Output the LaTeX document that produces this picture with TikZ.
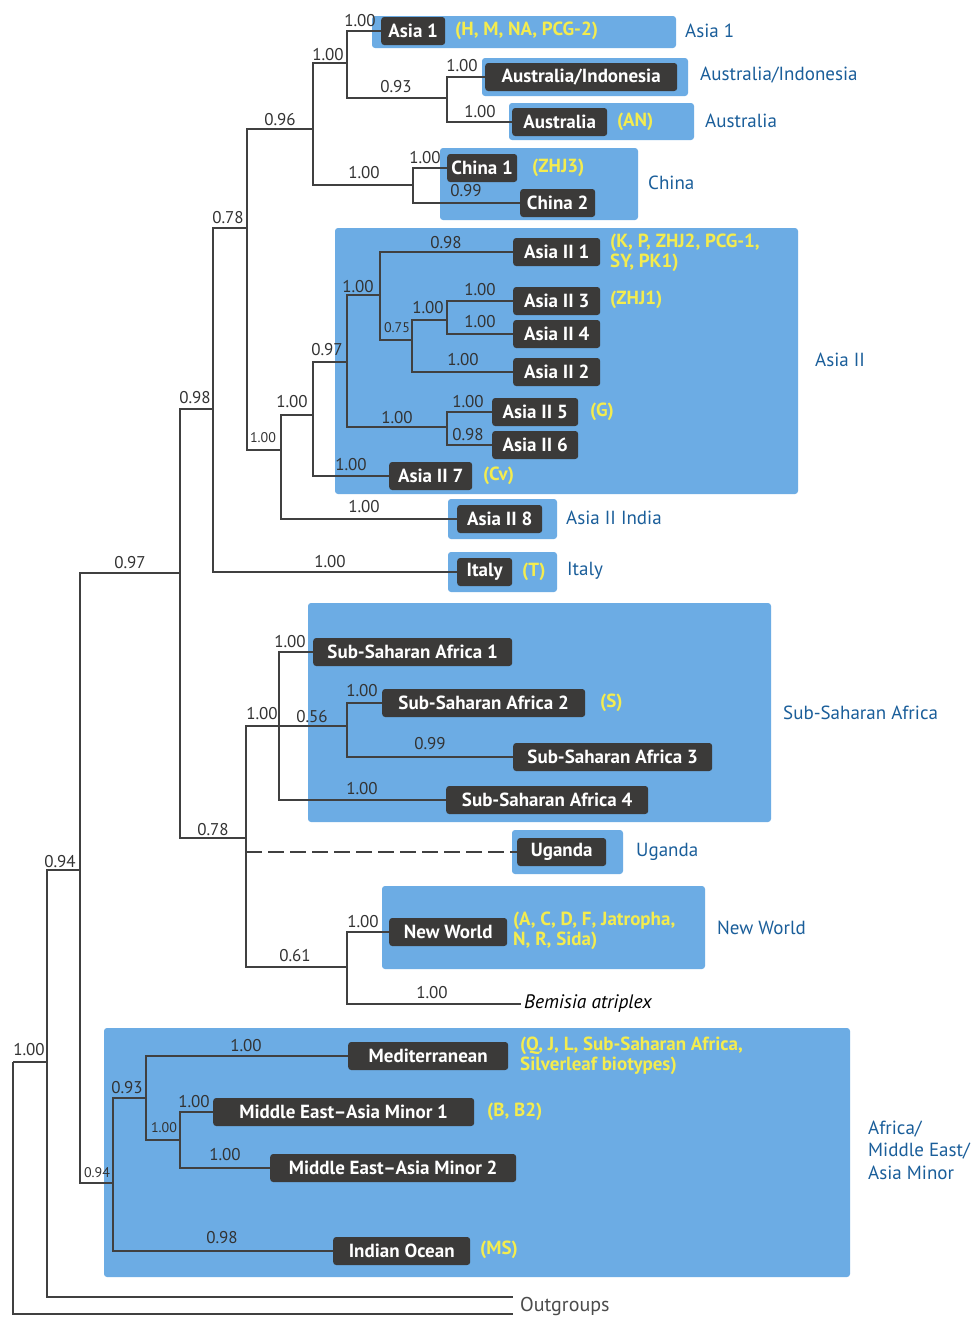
\documentclass[tikz,border=0pt]{standalone}
\usepackage{fontspec}
\setmainfont{PT Sans}
\definecolor{boxblue}{HTML}{6CACE4}
\definecolor{darkbox}{HTML}{3B3A39}
\definecolor{linec}{HTML}{404040}
\definecolor{numc}{HTML}{333333}
\definecolor{yelc}{HTML}{F4EC4E}
\definecolor{grpc}{HTML}{1A5E9A}
\begin{document}
\begin{tikzpicture}[x=1pt,y=-1pt,
  br/.style={line width=1.2pt, draw=linec},
  grp/.style={fill=boxblue, rounded corners=3pt},
  leaf/.style={fill=darkbox, text=white, font=\bfseries\fontsize{19}{20}\selectfont, rounded corners=3pt, minimum height=28pt, inner xsep=3pt, inner ysep=0pt, anchor=west},
  num/.style={text=numc, font=\fontsize{17}{17}\selectfont, inner sep=0pt},
  snum/.style={text=numc, font=\fontsize{14}{14}\selectfont, inner sep=0pt},
  yel/.style={text=yelc, font=\bfseries\fontsize{19}{19.5}\selectfont, anchor=west, inner sep=0pt, align=left},
  glab/.style={text=grpc, font=\fontsize{19}{22.5}\selectfont, anchor=west, inner sep=0pt, align=left}]
\useasboundingbox (0,0) rectangle (974,1317);
\fill[white] (0,0) rectangle (974,1317);

% group boxes
\fill[grp] (372,16) rectangle (676,48);
\fill[grp] (482,58) rectangle (688,96);
\fill[grp] (509,103) rectangle (694,140);
\fill[grp] (440,148) rectangle (638,220);
\fill[grp] (335,228) rectangle (798,494);
\fill[grp] (448,499) rectangle (557,539);
\fill[grp] (448,552) rectangle (557,592);
\fill[grp] (308,603) rectangle (771,822);
\fill[grp] (512,830) rectangle (623,874);
\fill[grp] (382,886) rectangle (705,969);
\fill[grp] (104,1028) rectangle (850,1277);

% leaves
\node[leaf, minimum width=64pt] (asia1) at (381,31) {Asia 1};
\node[leaf, minimum width=192pt] (ausind) at (485,77) {Australia/Indonesia};
\node[leaf, minimum width=95pt] (aus) at (512,122) {Australia};
\node[leaf, minimum width=70pt] (china1) at (447,168) {China 1};
\node[leaf, minimum width=75pt] (china2) at (520,203) {China 2};
\node[leaf, minimum width=87pt] (a21) at (513,252) {Asia II 1};
\node[leaf, minimum width=87pt] (a23) at (513,301) {Asia II 3};
\node[leaf, minimum width=87pt] (a24) at (513,334) {Asia II 4};
\node[leaf, minimum width=87pt] (a22) at (513,372) {Asia II 2};
\node[leaf, minimum width=86pt] (a25) at (492,412) {Asia II 5};
\node[leaf, minimum width=86pt] (a26) at (492,445) {Asia II 6};
\node[leaf, minimum width=83pt] (a27) at (389,476) {Asia II 7};
\node[leaf, minimum width=85pt] (a28) at (457,519) {Asia II 8};
\node[leaf, minimum width=55pt] (italy) at (457,572) {Italy};
\node[leaf, minimum width=199pt] (ssa1) at (313,652) {Sub-Saharan Africa 1};
\node[leaf, minimum width=203pt] (ssa2) at (382,703) {Sub-Saharan Africa 2};
\node[leaf, minimum width=199pt] (ssa3) at (513,757) {Sub-Saharan Africa 3};
\node[leaf, minimum width=202pt] (ssa4) at (446,800) {Sub-Saharan Africa 4};
\node[leaf, minimum width=89pt] (uganda) at (517,852) {Uganda};
\node[leaf, minimum width=118pt] (nw) at (389,932) {New World};
\node[anchor=west, inner sep=0pt, font=\itshape\fontsize{19.5}{20}\selectfont, text=black] (bem) at (524,1004) {Bemisia atriplex};
\node[leaf, minimum width=160pt] (med) at (348,1056) {Mediterranean};
\node[leaf, minimum width=261pt] (meam1) at (213,1112) {Middle East–Asia Minor 1};
\node[leaf, minimum width=246pt] (meam2) at (270,1168) {Middle East–Asia Minor 2};
\node[leaf, minimum width=137pt] (indian) at (333,1251) {Indian Ocean};
\node[anchor=west, inner sep=0pt, font=\fontsize{20}{20}\selectfont, text=black!70] (outg) at (520,1306) {Outgroups};

% internal nodes
\coordinate (r0) at (13,1062);
\coordinate (n47) at (47,1062);
\coordinate (n80) at (80,870);
\coordinate (n180) at (180,573);
\coordinate (n213) at (213,409);
\coordinate (n247) at (247,228);
\coordinate (n313) at (313,129);
\coordinate (n347) at (347,63);
\coordinate (n447) at (447,98);
\coordinate (n413) at (413,185);
\coordinate (n281) at (281,450);
\coordinate (n313b) at (313,415);
\coordinate (n347b) at (347,362);
\coordinate (n380) at (380,295);
\coordinate (n412) at (412,340);
\coordinate (n447b) at (447,320);
\coordinate (n447c) at (447,427);
\coordinate (n246) at (246,838);
\coordinate (n279) at (279,726);
\coordinate (n347c) at (347,726);
\coordinate (n347d) at (347,967);
\coordinate (n113) at (113,1183);
\coordinate (n146) at (146,1098);
\coordinate (n180b) at (180,1140);
\coordinate (og1) at (513,1297);
\coordinate (og2) at (513,1314);

% branches
\draw[br] (r0) |- (n47);
\draw[br] (r0) |- (og2);
\draw[br] (n47) |- (n80);
\draw[br] (n47) |- (og1);
\draw[br] (n80) |- (n180);
\draw[br] (n80) |- (n113);
\draw[br] (n180) |- (n213);
\draw[br] (n180) |- (n246);
\draw[br] (n213) |- (n247);
\draw[br] (n213) |- (italy.west);
\draw[br] (n247) |- (n313);
\draw[br] (n247) |- (n281);
\draw[br] (n313) |- (n347);
\draw[br] (n313) |- (n413);
\draw[br] (n347) |- (asia1.west);
\draw[br] (n347) |- (n447);
\draw[br] (n447) |- (ausind.west);
\draw[br] (n447) |- (aus.west);
\draw[br] (n413) |- (china1.west);
\draw[br] (n413) |- (china2.west);
\draw[br] (n281) |- (n313b);
\draw[br] (n281) |- (a28.west);
\draw[br] (n313b) |- (n347b);
\draw[br] (n313b) |- (a27.west);
\draw[br] (n347b) |- (n380);
\draw[br] (n347b) |- (n447c);
\draw[br] (n380) |- (a21.west);
\draw[br] (n380) |- (n412);
\draw[br] (n412) |- (n447b);
\draw[br] (n412) |- (a22.west);
\draw[br] (n447b) |- (a23.west);
\draw[br] (n447b) |- (a24.west);
\draw[br] (n447c) |- (a25.west);
\draw[br] (n447c) |- (a26.west);
\draw[br] (n246) |- (n279);
\draw[br] (n246) |- (n347d);
\draw[br, dash pattern=on 16pt off 6pt] (n246 |- uganda.west) -- (uganda.west);
\draw[br] (n279) |- (ssa1.west);
\draw[br] (n279) -- (n347c);
\draw[br] (n279) |- (ssa4.west);
\draw[br] (n347c) |- (ssa2.west);
\draw[br] (n347c) |- (ssa3.west);
\draw[br] (n347d) |- (nw.west);
\draw[br] (n347d) |- ([xshift=-3pt]bem.west);
\draw[br] (n113) |- (n146);
\draw[br] (n113) |- (indian.west);
\draw[br] (n146) |- (med.west);
\draw[br] (n146) |- (n180b);
\draw[br] (n180b) |- (meam1.west);
\draw[br] (n180b) |- (meam2.west);

% support values
\node[num] (v1) at (360,21) {1.00};
\node[num] (v2) at (328,55) {1.00};
\node[num] (v3) at (396,87) {0.93};
\node[num] (v4) at (462,66) {1.00};
\node[num] (v5) at (480,112) {1.00};
\node[num] (v6) at (425,158) {1.00};
\node[num] (v7) at (466,191) {0.99};
\node[num] (v8) at (364,173) {1.00};
\node[num] (v9) at (280,120) {0.96};
\node[num] (v10) at (228,218) {0.78};
\node[num] (v11) at (446,243) {0.98};
\node[num] (v12) at (358,287) {1.00};
\node[num] (v13) at (428,308) {1.00};
\node[num] (v14) at (480,290) {1.00};
\node[num] (v15) at (480,322) {1.00};
\node[snum] (v16) at (397,328) {0.75};
\node[num] (v17) at (463,360) {1.00};
\node[num] (v18) at (327,350) {0.97};
\node[num] (v19) at (468,402) {1.00};
\node[num] (v20) at (468,435) {0.98};
\node[num] (v21) at (397,418) {1.00};
\node[num] (v22) at (292,402) {1.00};
\node[snum] (v23) at (263,438) {1.00};
\node[num] (v24) at (351,465) {1.00};
\node[num] (v25) at (364,507) {1.00};
\node[num] (v26) at (195,398) {0.98};
\node[num] (v27) at (330,562) {1.00};
\node[num] (v28) at (130,563) {0.97};
\node[num] (v29) at (290,642) {1.00};
\node[num] (v30) at (262,714) {1.00};
\node[num] (v31) at (312,717) {0.56};
\node[num] (v32) at (362,691) {1.00};
\node[num] (v33) at (430,744) {0.99};
\node[num] (v34) at (362,789) {1.00};
\node[num] (v35) at (213,830) {0.78};
\node[num] (v36) at (363,922) {1.00};
\node[num] (v37) at (295,956) {0.61};
\node[num] (v38) at (432,993) {1.00};
\node[num] (v39) at (60,862) {0.94};
\node[num] (v40) at (29,1050) {1.00};
\node[num] (v41) at (246,1046) {1.00};
\node[num] (v42) at (127,1088) {0.93};
\node[num] (v43) at (194,1102) {1.00};
\node[snum] (v44) at (164,1128) {1.00};
\node[num] (v45) at (225,1155) {1.00};
\node[snum] (v46) at (97,1173) {0.94};
\node[num] (v47) at (222,1238) {0.98};

% biotype annotations
\node[yel] (y1) at (455,31) {(H, M, NA, PCG-2)};
\node[yel] (y2) at (617,122) {(AN)};
\node[yel] (y3) at (532,168) {(ZHJ3)};
\node[yel] (y4) at (610,253) {(K, P, ZHJ2, PCG-1,\\SY, PK1)};
\node[yel] (y5) at (610,300) {(ZHJ1)};
\node[yel] (y6) at (590,412) {(G)};
\node[yel] (y7) at (483,476) {(Cv)};
\node[yel] (y8) at (522,572) {(T)};
\node[yel] (y9) at (600,703) {(S)};
\node[yel] (y10) at (513,931) {(A, C, D, F, Jatropha,\\N, R, Sida)};
\node[yel] (y11) at (520,1056) {(Q, J, L, Sub-Saharan Africa,\\Silverleaf biotypes)};
\node[yel] (y12) at (487,1112) {(B, B2)};
\node[yel] (y13) at (480,1250) {(MS)};

% group names
\node[glab] (g1) at (685,31) {Asia 1};
\node[glab] (g2) at (700,75) {Australia/Indonesia};
\node[glab] (g3) at (705,121) {Australia};
\node[glab] (g4) at (648,183) {China};
\node[glab] (g5) at (815,360) {Asia II};
\node[glab] (g6) at (566,518) {Asia II India};
\node[glab] (g7) at (567,571) {Italy};
\node[glab] (g8) at (783,713) {Sub-Saharan Africa};
\node[glab] (g9) at (636,852) {Uganda};
\node[glab] (g10) at (717,928) {New World};
\node[glab] (g11) at (868,1150) {Africa/\\Middle East/\\Asia Minor};
\end{tikzpicture}
\end{document}
